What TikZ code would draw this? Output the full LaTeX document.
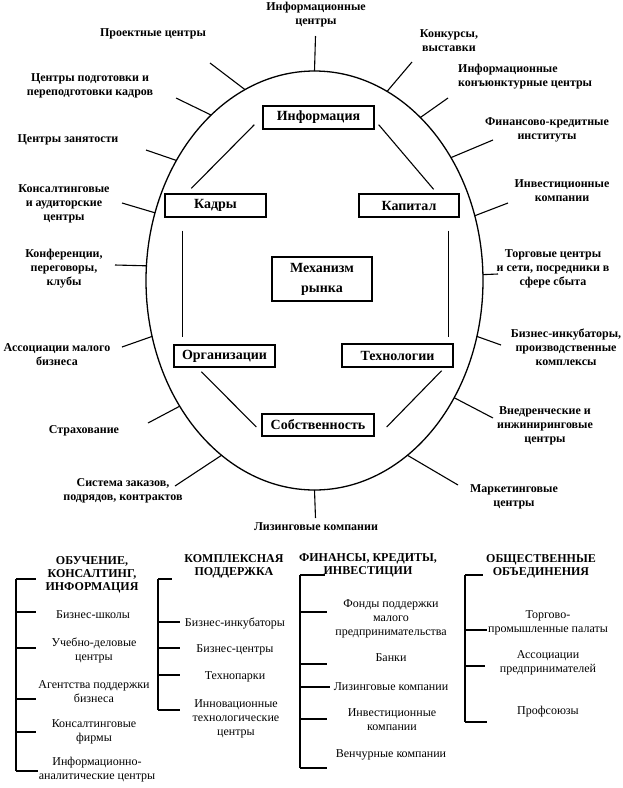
\documentclass[tikz,border=0pt]{standalone}
\usepackage{fontspec}
\setmainfont{Liberation Serif}
\usetikzlibrary{shapes.geometric,calc}
\begin{document}
\begin{tikzpicture}[x=1pt,y=-1pt,
  lab/.style={font=\fontsize{12}{14}\selectfont\bfseries, align=center, inner sep=0pt},
  box/.style={draw, line width=1.3pt, font=\fontsize{14}{18}\selectfont\bfseries, inner sep=0pt, align=center},
  itm/.style={font=\fontsize{12}{14}\selectfont, align=center, inner sep=0pt},
  head/.style={font=\fontsize{12}{13}\selectfont\bfseries, align=center, inner sep=0pt},
  ln/.style={line width=1.1pt}
]
\fill[white] (0,0) rectangle (623,788);
\useasboundingbox (0,0) rectangle (623,788);

% ellipse
\node[ellipse, draw, line width=1.3pt, minimum width=337pt, minimum height=419pt, inner sep=0pt, outer sep=0pt] (ell) at (314.5,280.5) {};

% central boxes
\node[box, minimum width=111pt, minimum height=23pt] (info) at (318.5,117.5) {Информация};
\node[box, minimum width=101pt, minimum height=23pt] (kadry) at (215.5,205.5) {Кадры};
\node[box, minimum width=100pt, minimum height=23pt] (kapital) at (409,205.5) {Капитал};
\node[box, minimum width=100pt, minimum height=44pt, font=\fontsize{14}{20}\selectfont\bfseries] (mech) at (322,279) {Механизм\\рынка};
\node[box, minimum width=101pt, minimum height=22pt] (org) at (224.5,356) {Организации};
\node[box, minimum width=111pt, minimum height=23pt] (tech) at (397.5,355.5) {Технологии};
\node[box, minimum width=112pt, minimum height=22pt] (sobst) at (318,425) {Собственность};

% inner connectors
\draw[ln] ($(info.south west)+(-8,-5)$) -- ($(kadry.north west)+(27,-5)$);
\draw[ln] ($(info.south east)+(4,-5)$) -- ($(kapital.north east)+(-26,-4)$);
\draw[ln] ($(kadry.south west)+(18,13)$) -- ($(org.north west)+(9,-7)$);
\draw[ln] ($(kapital.south east)+(-11,13)$) -- ($(tech.north east)+(-5,-6)$);
\draw[ln] ($(org.south west)+(28,4)$) -- ($(sobst.west)+(-5,2)$);
\draw[ln] ($(tech.south east)+(-12,3)$) -- ($(sobst.east)+(12,2)$);

% outer labels
\node[lab] (l1) at (316,15) {Информационные\\центры};
\node[lab] (l2) at (153,34) {Проектные центры};
\node[lab] (l3) at (449,41) {Конкурсы,\\выставки};
\node[lab] (l4) at (90,86) {Центры подготовки и\\переподготовки кадров};
\node[lab, align=left, anchor=west] (l5) at (458,77) {Информационные\\конъюнктурные центры};
\node[lab] (l6) at (68,140) {Центры занятости};
\node[lab] (l7) at (547,130) {Финансово-кредитные\\институты};
\node[lab] (l8) at (64,204) {Консалтинговые\\и аудиторские\\центры};
\node[lab] (l9) at (562,191) {Инвестиционные\\компании};
\node[lab] (l10) at (64,269) {Конференции,\\переговоры,\\клубы};
\node[lab] (l11) at (553,269) {Торговые центры\\и сети, посредники в\\сфере сбыта};
\node[lab] (l12) at (57,355) {Ассоциации малого\\бизнеса};
\node[lab] (l13) at (566,347) {Бизнес-инкубаторы,\\производственные\\комплексы};
\node[lab] (l14) at (84,431) {Страхование};
\node[lab] (l15) at (545,426) {Внедренческие и\\инжиниринговые\\центры};
\node[lab] (l16) at (123,491) {Система заказов,\\подрядов, контрактов};
\node[lab] (l17) at (316,527) {Лизинговые компании};
\node[lab] (l18) at (514,497) {Маркетинговые\\центры};

% spoke outer ends
\coordinate (s1) at (315.5,36);
\coordinate (s2) at (210,63);
\coordinate (s3) at (412,62);
\coordinate (s4) at (176,98);
\coordinate (s5) at (448,98);
\coordinate (s6) at (146,150);
\coordinate (s7) at (493,140);
\coordinate (s8) at (122,203);
\coordinate (s9) at (508,203);
\coordinate (s10) at (115,265);
\coordinate (s11) at (498,274);
\coordinate (s12) at (122,347);
\coordinate (s13) at (501,345);
\coordinate (s14) at (148,423);
\coordinate (s15) at (493,418);
\coordinate (s16) at (175,486);
\coordinate (s17) at (458,485);
\coordinate (s18) at (315.5,518);

\draw[ln] (s1) -- (ell.90);
\draw[ln] (s2) -- (ell.110);
\draw[ln] (s3) -- (ell.69);
\draw[ln] (s4) -- (ell.122);
\draw[ln] (s5) -- (ell.57);
\draw[ln] (s6) -- (ell.139);
\draw[ln] (s7) -- (ell.42);
\draw[ln] (s8) -- (ell.157);
\draw[ln] (s9) -- (ell.22);
\draw[ln] (s10) -- (ell.175);
\draw[ln] (s11) -- (ell.2);
\draw[ln] (s12) -- (ell.199);
\draw[ln] (s13) -- (ell.-19);
\draw[ln] (s14) -- (ell.223);
\draw[ln] (s15) -- (ell.-40);
\draw[ln] (s16) -- (ell.242);
\draw[ln] (s17) -- (ell.-62);
\draw[ln] (s18) -- (ell.270);

% ===== bottom: column 1 =====
\node[head] (h1) at (92,575) {ОБУЧЕНИЕ,\\КОНСАЛТИНГ,\\ИНФОРМАЦИЯ};
\node[itm] (a1) at (93,615) {Бизнес-школы};
\node[itm] (a2) at (94,650) {Учебно-деловые\\центры};
\node[itm] (a3) at (94,692) {Агентства поддержки\\бизнеса};
\node[itm] (a4) at (94,732) {Консалтинговые\\фирмы};
\node[itm] (a5) at (97,770) {Информационно-\\аналитические центры};
\coordinate (b1top) at (16,579);
\coordinate (b1bot) at (16,771);
\coordinate (t10) at (36,579);
\coordinate (t11) at (36,612);
\coordinate (t12) at (36,648);
\coordinate (t13) at (36,699);
\coordinate (t14) at (36,732);
\coordinate (t15) at (38,771);
\draw[ln] (b1top) -- (b1bot);
\foreach \t in {t10,t11,t12,t13,t14,t15} \draw[ln] (b1top |- \t) -- (\t);

% ===== column 2 =====
\node[head] (h2) at (234,566) {КОМПЛЕКСНАЯ\\ПОДДЕРЖКА};
\node[itm] (c1) at (235,623) {Бизнес-инкубаторы};
\node[itm] (c2) at (235,650) {Бизнес-центры};
\node[itm] (c3) at (235,677) {Технопарки};
\node[itm] (c4) at (236,719) {Инновационные\\технологические\\центры};
\coordinate (b2top) at (158,579);
\coordinate (b2bot) at (158,710);
\coordinate (t20) at (172,579);
\coordinate (t21) at (180,622);
\coordinate (t22) at (180,648);
\coordinate (t23) at (180,675);
\coordinate (t24) at (180,710);
\draw[ln] (b2top) -- (b2bot);
\foreach \t in {t20,t21,t22,t23,t24} \draw[ln] (b2top |- \t) -- (\t);

% ===== column 3 =====
\node[head] (h3) at (368,565) {ФИНАНСЫ, КРЕДИТЫ,\\ИНВЕСТИЦИИ};
\node[itm] (d1) at (391,619) {Фонды поддержки\\малого\\предпринимательства};
\node[itm] (d2) at (391,658) {Банки};
\node[itm] (d3) at (391,687) {Лизинговые компании};
\node[itm] (d4) at (392,720) {Инвестиционные\\компании};
\node[itm] (d5) at (391,755) {Венчурные компании};
\coordinate (b3top) at (300,575);
\coordinate (b3bot) at (300,768);
\coordinate (t30) at (325,575);
\coordinate (t31) at (327,612);
\coordinate (t32) at (327,664);
\coordinate (t33) at (330,687);
\coordinate (t34) at (327,719);
\coordinate (t35) at (327,768);
\draw[ln] (b3top) -- (b3bot);
\foreach \t in {t30,t31,t32,t33,t34,t35} \draw[ln] (b3top |- \t) -- (\t);

% ===== column 4 =====
\node[head] (h4) at (541,566) {ОБЩЕСТВЕННЫЕ\\ОБЪЕДИНЕНИЯ};
\node[itm] (e1) at (548,623) {Торгово-\\промышленные палаты};
\node[itm] (e2) at (548,663) {Ассоциации\\предпринимателей};
\node[itm] (e3) at (548,712) {Профсоюзы};
\coordinate (b4top) at (465,575);
\coordinate (b4bot) at (465,722);
\coordinate (t40) at (483,575);
\coordinate (t41) at (487,630);
\coordinate (t42) at (485,666);
\coordinate (t43) at (487,722);
\draw[ln] (b4top) -- (b4bot);
\foreach \t in {t40,t41,t42,t43} \draw[ln] (b4top |- \t) -- (\t);
\end{tikzpicture}
\end{document}
